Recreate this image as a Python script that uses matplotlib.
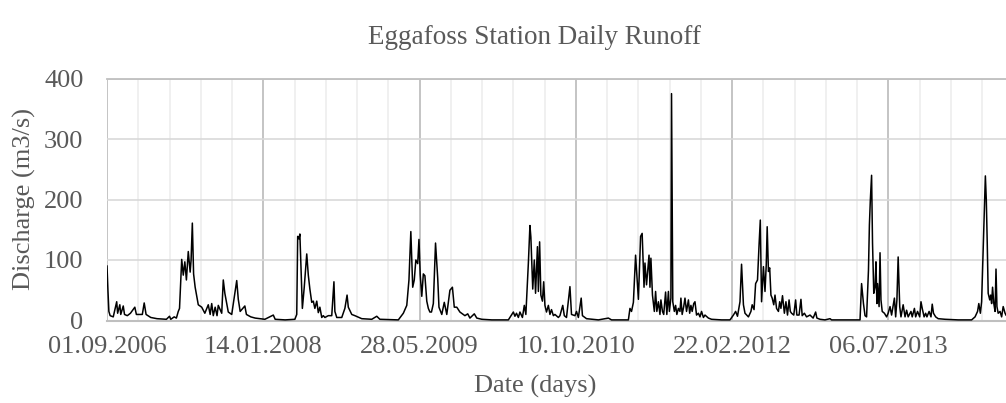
import datetime as dt
import matplotlib
matplotlib.use("Agg")
import matplotlib.pyplot as plt
import matplotlib.dates as mdates

# dager etter startdato, og avrenning (m3/s) lest av figuren
start = dt.date(2006, 9, 1)
dager = [
    0, 3, 6, 10, 20, 31, 34, 41, 44, 52, 56, 65, 75, 86, 89, 94, 113, 119, 125, 140,
    160, 190, 200, 204, 215, 222, 228, 232, 239, 244, 249, 254, 260, 266, 269, 273, 277, 282, 292, 303,
    313, 324, 330, 335, 340, 346, 352, 356, 367, 372, 377, 388, 399, 415, 420, 426, 441, 446, 460, 474,
    505, 532, 538, 570, 601, 607, 610, 614, 617, 621, 625, 631, 639, 644, 649, 655, 660, 665, 671, 676,
    681, 687, 692, 697, 708, 719, 726, 729, 735, 751, 761, 768, 772, 783, 793, 815, 847, 863, 873, 932,
    948, 959, 966, 972, 978, 983, 988, 994, 998, 1002, 1007, 1012, 1017, 1023, 1028, 1033, 1038, 1044, 1051, 1058,
    1062, 1071, 1079, 1087, 1097, 1105, 1111, 1119, 1129, 1145, 1154, 1161, 1175, 1183, 1199, 1231, 1284, 1300, 1305, 1310,
    1316, 1321, 1329, 1335, 1340, 1348, 1353, 1356, 1362, 1367, 1371, 1377, 1380, 1384, 1388, 1393, 1397, 1401, 1406, 1412,
    1417, 1422, 1428, 1433, 1444, 1449, 1458, 1463, 1470, 1476, 1481, 1486, 1497, 1502, 1508, 1517, 1521, 1534, 1572, 1604,
    1614, 1668, 1673, 1678, 1684, 1691, 1700, 1707, 1712, 1718, 1721, 1726, 1734, 1737, 1740, 1745, 1751, 1755, 1759, 1764,
    1769, 1772, 1777, 1781, 1787, 1791, 1796, 1799, 1804, 1806, 1810, 1815, 1819, 1823, 1828, 1833, 1836, 1840, 1845, 1849,
    1854, 1860, 1864, 1868, 1872, 1877, 1881, 1886, 1892, 1897, 1902, 1908, 1913, 1924, 1934, 1966, 1993, 2004, 2011, 2017,
    2025, 2030, 2036, 2041, 2052, 2060, 2064, 2070, 2075, 2081, 2086, 2090, 2094, 2100, 2105, 2109, 2112, 2116, 2120, 2124,
    2128, 2133, 2137, 2142, 2148, 2152, 2156, 2161, 2167, 2172, 2177, 2182, 2186, 2190, 2197, 2203, 2207, 2214, 2220, 2224,
    2231, 2238, 2249, 2259, 2267, 2271, 2281, 2297, 2313, 2318, 2361, 2409, 2414, 2420, 2425, 2430, 2436, 2439, 2442, 2446,
    2449, 2453, 2457, 2460, 2463, 2465, 2470, 2473, 2476, 2480, 2487, 2494, 2499, 2505, 2510, 2519, 2523, 2527, 2531, 2536,
    2540, 2547, 2553, 2558, 2563, 2572, 2576, 2583, 2587, 2593, 2600, 2604, 2608, 2614, 2619, 2623, 2630, 2636, 2640, 2644,
    2651, 2659, 2681, 2723, 2766, 2777, 2785, 2789, 2794, 2798, 2802, 2806, 2810, 2813, 2816, 2819, 2824, 2827, 2830, 2833,
    2837, 2841, 2844, 2847, 2851, 2857, 2862, 2867, 2873, 2876,
]
avrenning = [
    90, 50, 15, 8, 6, 31, 12, 26, 10, 24, 10, 8, 12, 20, 22, 10, 10, 29, 10, 5,
    3, 2, 7, 2, 6, 4, 15, 20, 101, 75, 97, 67, 114, 80, 100, 161, 77, 55, 26, 22,
    12, 26, 10, 28, 8, 22, 8, 25, 12, 67, 45, 14, 10, 66, 35, 15, 24, 10, 6, 4,
    2, 9, 2, 1, 2, 10, 139, 135, 143, 80, 20, 55, 110, 75, 52, 30, 32, 20, 32, 13,
    22, 5, 8, 5, 8, 8, 64, 15, 5, 5, 20, 42, 22, 10, 8, 3, 2, 7, 2, 1,
    12, 25, 67, 147, 55, 67, 100, 94, 134, 76, 40, 77, 74, 32, 20, 14, 14, 28, 128, 70,
    22, 10, 30, 10, 50, 55, 22, 22, 14, 8, 11, 4, 11, 4, 2, 1, 1, 14, 7, 12,
    5, 14, 5, 25, 10, 95, 157, 138, 52, 100, 45, 122, 48, 130, 42, 32, 64, 25, 14, 25,
    10, 18, 8, 10, 5, 8, 25, 8, 5, 33, 56, 10, 8, 15, 5, 37, 8, 3, 1, 4,
    1, 1, 20, 15, 30, 108, 35, 139, 144, 55, 95, 59, 108, 55, 103, 42, 15, 48, 15, 31,
    10, 34, 15, 10, 47, 10, 48, 15, 37, 375, 31, 15, 25, 10, 20, 15, 37, 10, 23, 37,
    15, 34, 12, 25, 15, 28, 31, 9, 12, 6, 15, 5, 9, 4, 2, 1, 1, 9, 15, 7,
    31, 93, 26, 12, 6, 15, 26, 18, 61, 67, 125, 166, 31, 89, 48, 92, 155, 81, 87, 42,
    37, 26, 42, 20, 15, 31, 20, 41, 12, 31, 9, 34, 15, 12, 9, 34, 9, 9, 35, 8,
    12, 6, 9, 4, 14, 4, 2, 1, 3, 1, 1, 1, 61, 28, 8, 6, 83, 158, 199, 240,
    128, 45, 55, 97, 28, 61, 23, 112, 34, 15, 12, 6, 12, 23, 9, 37, 6, 34, 105, 23,
    6, 26, 6, 17, 6, 15, 6, 20, 6, 15, 6, 31, 20, 6, 12, 6, 15, 6, 27, 12,
    6, 3, 2, 1, 1, 6, 15, 28, 12, 31, 100, 172, 239, 199, 128, 45, 34, 42, 28, 55,
    28, 15, 85, 23, 12, 15, 6, 23, 12, 9,
]

datoer = [start + dt.timedelta(days=d) for d in dager]

plt.rcParams['font.family'] = ['Liberation Serif', 'DejaVu Serif']
tekst = '#595959'

fig = plt.figure(figsize=(10.06, 4.03), dpi=100)
ax = fig.add_axes([107 / 1006, 1 - 320.5 / 403, 1 - 107 / 1006, 242 / 403])

ax.plot(datoer, avrenning, color='black', lw=1.1, zorder=3)

ax.set_ylim(0, 400)
ax.set_yticks([0, 100, 200, 300, 400])
ax.set_xlim(start, start + dt.timedelta(days=2876))

hoved = [start + dt.timedelta(days=500 * i) for i in range(6)]
sma = [start + dt.timedelta(days=100 * i) for i in range(29) if i % 5]
ax.set_xticks(hoved)
ax.set_xticks(sma, minor=True)
ax.xaxis.set_major_formatter(mdates.DateFormatter('%d.%m.%Y'))

ax.grid(axis='y', color='#d9d9d9', lw=1.2, zorder=0)
ax.grid(axis='x', which='major', color='#bfbfbf', lw=1.3, zorder=0)
ax.grid(axis='x', which='minor', color='#eeeeee', lw=1.2, zorder=0)

for side in ['left', 'right']:
    ax.spines[side].set_visible(False)
ax.spines['top'].set_color('#bfbfbf')
ax.spines['top'].set_linewidth(1.3)
ax.spines['bottom'].set_color('#bfbfbf')
ax.spines['bottom'].set_linewidth(1.5)

ax.tick_params(axis='both', which='both', length=0, labelsize=19, labelcolor=tekst)
ax.tick_params(axis='y', pad=17)
ax.tick_params(axis='x', pad=11)

fig.text(534 / 1006, 1 - 38 / 403, 'Eggafoss Station Daily Runoff', ha='center', va='center',
         fontsize=19.5, color=tekst)
fig.text(24 / 1006, 1 - 199 / 403, 'Discharge (m3/s)', ha='center', va='center', rotation=90,
         fontsize=19, color=tekst)
fig.text(535 / 1006, 1 - 386 / 403, 'Date (days)', ha='center', va='center',
         fontsize=19, color=tekst)

fig.savefig('out.png', dpi=100)
